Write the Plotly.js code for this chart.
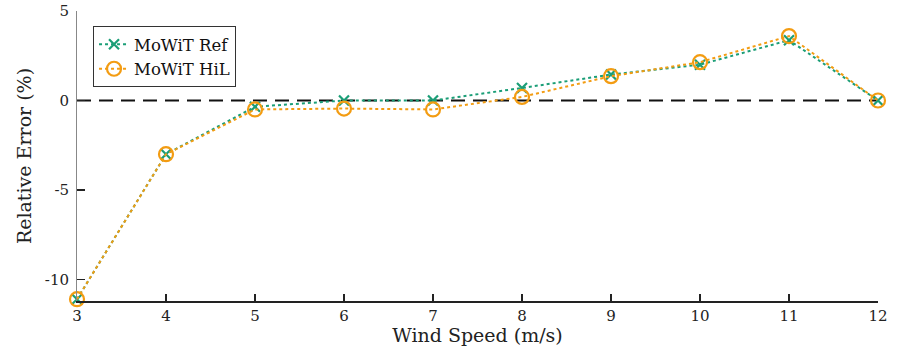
<!DOCTYPE html>
<html><head><meta charset="utf-8">
<script src="https://cdn.plot.ly/plotly-3.0.1.min.js"></script>
<style>body{margin:0;background:#fff}#c{width:901px;height:359px}</style>
</head><body><div id="c"></div>
<script>
const windSpeed = [3, 4, 5, 6, 7, 8, 9, 10, 11, 12];
const refError = [-11.1, -3.0, -0.35, 0.0, 0.0, 0.7, 1.45, 2.0, 3.37, 0.0];
const hilError = [-11.1, -3.0, -0.5, -0.45, -0.5, 0.2, 1.36, 2.14, 3.6, 0.0];
const zeroX = [3, 12];
const zeroY = [0, 0];
const yTickVals = [-10, -5, 0, 5];
const yTickText = ['-10', '-5', '0', '5'];
const xTickVals = [3, 4, 5, 6, 7, 8, 9, 10, 11, 12];

const font = 'DejaVu Serif, serif';
const traces = [
  {x: zeroX, y: zeroY, mode: 'lines', showlegend: false, hoverinfo: 'skip', cliponaxis: false,
   line: {color: '#111', width: 2, dash: '14px,8px'}},
  {x: windSpeed, y: refError, name: 'MoWiT Ref', mode: 'lines+markers', cliponaxis: false,
   line: {color: '#1b9e77', width: 2, dash: 'dot'},
   marker: {symbol: 'x-thin-open', size: 10, color: '#1b9e77', line: {color: '#1b9e77', width: 2.2}}},
  {x: windSpeed, y: hilError, name: 'MoWiT HiL', mode: 'lines+markers', cliponaxis: false,
   line: {color: '#f39c12', width: 2, dash: 'dot'},
   marker: {symbol: 'circle-open', size: 14, color: '#f39c12', line: {color: '#f39c12', width: 2.2}}}
];
const layout = {
  width: 901, height: 359,
  margin: {l: 77, r: 23, t: 11, b: 58},
  paper_bgcolor: '#fff', plot_bgcolor: '#fff',
  font: {family: font, size: 15, color: '#222'},
  showlegend: true,
  legend: {x: 0.02, y: 0.948, xanchor: 'left', yanchor: 'top',
    bgcolor: '#fff', bordercolor: '#333', borderwidth: 1,
    font: {family: font, size: 16.5, color: '#111'}, tracegroupgap: 0},
  xaxis: {range: [3, 12], tickvals: xTickVals, ticks: 'inside', ticklen: 7, tickwidth: 1.5,
    tickcolor: '#222', showline: true, linecolor: '#222', linewidth: 1.5,
    showgrid: false, zeroline: false, tickfont: {size: 15},
    title: {text: 'Wind Speed (m/s)', font: {size: 19}, standoff: 5}},
  yaxis: {range: [-11.2, 5], tickvals: yTickVals, ticktext: yTickText, ticks: 'inside',
    ticklen: 8, tickwidth: 1.5, tickcolor: '#222', showline: true, linecolor: '#888',
    linewidth: 1, showgrid: false, zeroline: false, tickfont: {size: 15}, ticklabelstandoff: 4,
    title: {text: 'Relative Error (%)', font: {size: 19}, standoff: 8}}
};
Plotly.newPlot('c', traces, layout, {staticPlot: true, displayModeBar: false});
</script></body></html>
